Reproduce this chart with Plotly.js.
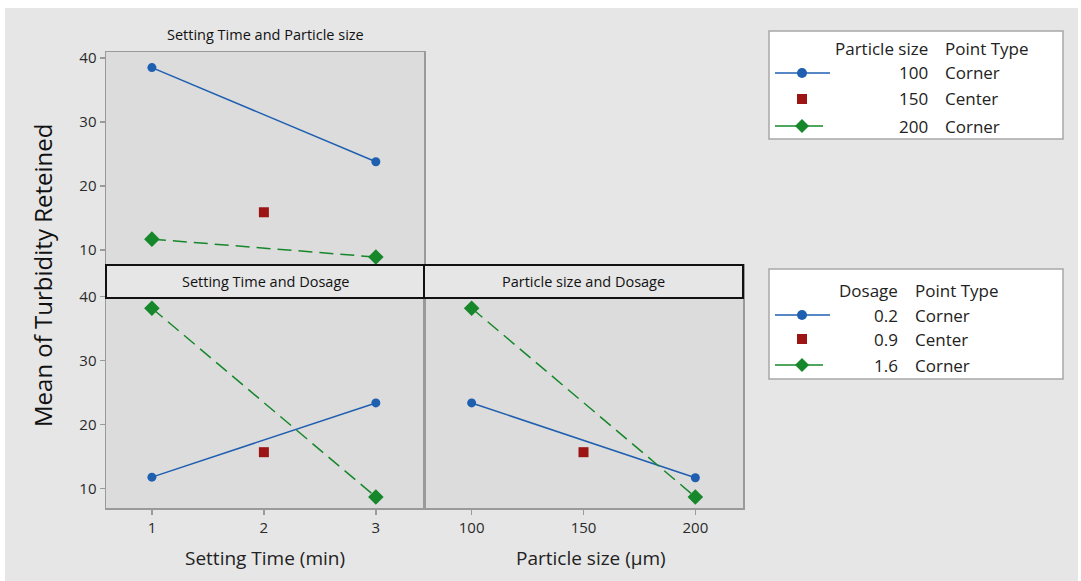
<!DOCTYPE html>
<html>
<head>
<meta charset="utf-8">
<script src="https://cdn.plot.ly/plotly-3.0.1.min.js"></script>
<style>html,body{margin:0;padding:0;background:#fff;}#chart{width:1081px;height:581px;}</style>
</head>
<body>
<div id="chart"></div>
<script>
// ---- data ----
const settingTime = [1, 3];
const settingTimeCenter = [2];
const particleSize = [100, 200];
const particleSizeCenter = [150];

// Panel 1: Setting Time x Particle size
const st_ps100 = [38.5, 23.8];
const st_ps200 = [11.7, 8.9];
const st_psCenter = [15.9];

// Panel 2: Setting Time x Dosage
const st_d02 = [11.8, 23.4];
const st_d16 = [38.2, 8.7];
const st_dCenter = [15.7];

// Panel 3: Particle size x Dosage
const ps_d02 = [23.4, 11.7];
const ps_d16 = [38.2, 8.7];
const ps_dCenter = [15.7];

const xTicksST = [1, 2, 3];
const xTicksPS = [100, 150, 200];
const yTicks = [10, 20, 30, 40];

const legend1Header = ["Particle size", "Point Type"];
const legend1Rows = [["100", "Corner"], ["150", "Center"], ["200", "Corner"]];
const legend2Header = ["Dosage", "Point Type"];
const legend2Rows = [["0.2", "Corner"], ["0.9", "Center"], ["1.6", "Corner"]];

// ---- style ----
const W = 1081, H = 581;
const px = x => x / W;
const py = y => 1 - y / H;
const FONT = "Open Sans, Noto Sans, sans-serif";
const BLUE = "#1f5fb0", GREEN = "#16872a", RED = "#9c1414";
const AXC = "#9a9a9a";
const GREEN_DASH = "14px,7px";

function lineTrace(x, y, xa, ya, color, dash, symbol, size) {
  return {x: x, y: y, xaxis: xa, yaxis: ya, type: "scatter", mode: "lines+markers",
    line: {color: color, width: 1.5, dash: dash},
    marker: {color: color, symbol: symbol, size: size},
    showlegend: false, hoverinfo: "x+y"};
}
function centerTrace(x, y, xa, ya) {
  return {x: x, y: y, xaxis: xa, yaxis: ya, type: "scatter", mode: "markers",
    marker: {color: RED, symbol: "square", size: 10},
    showlegend: false, hoverinfo: "x+y"};
}

const traces = [
  lineTrace(settingTime, st_ps100, "x", "y", BLUE, "solid", "circle", 9),
  lineTrace(settingTime, st_ps200, "x", "y", GREEN, GREEN_DASH, "diamond", 12),
  centerTrace(settingTimeCenter, st_psCenter, "x", "y"),
  lineTrace(settingTime, st_d02, "x2", "y2", BLUE, "solid", "circle", 9),
  lineTrace(settingTime, st_d16, "x2", "y2", GREEN, GREEN_DASH, "diamond", 12),
  centerTrace(settingTimeCenter, st_dCenter, "x2", "y2"),
  lineTrace(particleSize, ps_d02, "x3", "y3", BLUE, "solid", "circle", 9),
  lineTrace(particleSize, ps_d16, "x3", "y3", GREEN, GREEN_DASH, "diamond", 12),
  centerTrace(particleSizeCenter, ps_dCenter, "x3", "y3")
];

const tickFont = {family: FONT, size: 15, color: "#2a2a2a"};
function yAx(domain, range, labels) {
  return {domain: domain, range: range, tickvals: yTicks, showticklabels: labels,
    ticks: labels ? "outside" : "", ticklen: 5, tickcolor: AXC, tickwidth: 1.5,
    showgrid: false, zeroline: false, showline: true, linecolor: AXC, linewidth: 1.5,
    mirror: true, tickfont: tickFont};
}
function xAx(domain, range, tickvals, labels, anchor) {
  return {domain: domain, range: range, tickvals: tickvals, showticklabels: labels,
    ticks: labels ? "outside" : "", ticklen: 5, tickcolor: AXC, tickwidth: 1.5,
    showgrid: false, zeroline: false, showline: true, linecolor: AXC, linewidth: 1.5,
    mirror: true, tickfont: tickFont, anchor: anchor};
}

const xL = [px(106), px(424)], xR = [px(424), px(743)];
const yTop = [py(265), py(52)], yBot = [py(508), py(265)];

const shapes = [
  {type: "rect", xref: "paper", yref: "paper", x0: px(5), x1: px(1078), y0: py(581), y1: py(8),
   fillcolor: "#e6e6e6", line: {width: 0}, layer: "below"},
  {type: "rect", xref: "paper", yref: "paper", x0: xL[0], x1: xL[1], y0: yTop[0], y1: yTop[1],
   fillcolor: "#dcdcdc", line: {width: 0}, layer: "below"},
  {type: "rect", xref: "paper", yref: "paper", x0: xL[0], x1: xL[1], y0: yBot[0], y1: yBot[1],
   fillcolor: "#dcdcdc", line: {width: 0}, layer: "below"},
  {type: "rect", xref: "paper", yref: "paper", x0: xR[0], x1: xR[1], y0: yBot[0], y1: yBot[1],
   fillcolor: "#dcdcdc", line: {width: 0}, layer: "below"},
  {type: "rect", xref: "paper", yref: "paper", x0: px(106), x1: px(424), y0: py(298), y1: py(265),
   fillcolor: "#e6e6e6", line: {color: "#111", width: 2}},
  {type: "rect", xref: "paper", yref: "paper", x0: px(424), x1: px(743), y0: py(298), y1: py(265),
   fillcolor: "#e6e6e6", line: {color: "#111", width: 2}},
  {type: "rect", xref: "paper", yref: "paper", x0: px(769), x1: px(1063), y0: py(139), y1: py(31),
   fillcolor: "#ffffff", line: {color: "#a8a8a8", width: 1.5}},
  {type: "rect", xref: "paper", yref: "paper", x0: px(769), x1: px(1063), y0: py(379), y1: py(269),
   fillcolor: "#ffffff", line: {color: "#a8a8a8", width: 1.5}}
];

const annotations = [
  {text: "Setting Time and Particle size", x: px(265), y: py(35), font: {family: FONT, size: 14.5, color: "#111"}},
  {text: "Setting Time and Dosage", x: px(265), y: py(281), font: {family: FONT, size: 14.5, color: "#111"}},
  {text: "Particle size and Dosage", x: px(583), y: py(282), font: {family: FONT, size: 14.5, color: "#111"}},
  {text: "Mean of Turbidity Reteined", x: px(42), y: py(276), textangle: -90, font: {family: FONT, size: 24, color: "#111"}},
  {text: "Setting Time (min)", x: px(265), y: py(558), font: {family: FONT, size: 19, color: "#222"}},
  {text: "Particle size (\u03bcm)", x: px(591), y: py(558), font: {family: FONT, size: 19, color: "#222"}}
].map(a => Object.assign({xref: "paper", yref: "paper", showarrow: false, xanchor: "center", yanchor: "middle"}, a));

function addLegend(header, rows, splitX, headerY, rowYs) {
  const f = {family: FONT, size: 17, color: "#222"};
  const base = {xref: "paper", yref: "paper", showarrow: false, yanchor: "middle"};
  annotations.push(Object.assign({}, base, {text: header[0], x: px(splitX), y: py(headerY), xanchor: "right", font: f}));
  annotations.push(Object.assign({}, base, {text: header[1], x: px(splitX + 13), y: py(headerY), xanchor: "left", font: f}));
  rows.forEach((r, i) => {
    annotations.push(Object.assign({}, base, {text: r[0], x: px(splitX), y: py(rowYs[i]), xanchor: "right", font: f}));
    annotations.push(Object.assign({}, base, {text: r[1], x: px(splitX + 13), y: py(rowYs[i]), xanchor: "left", font: f}));
  });
  const cx = 802;
  shapes.push({type: "line", xref: "paper", yref: "paper", x0: px(775), x1: px(830), y0: py(rowYs[0]), y1: py(rowYs[0]), line: {color: BLUE, width: 1.6}});
  shapes.push({type: "circle", xref: "paper", yref: "paper", x0: px(cx - 5), x1: px(cx + 5), y0: py(rowYs[0] + 5), y1: py(rowYs[0] - 5), fillcolor: BLUE, line: {width: 0}});
  shapes.push({type: "rect", xref: "paper", yref: "paper", x0: px(cx - 5), x1: px(cx + 5), y0: py(rowYs[1] + 5), y1: py(rowYs[1] - 5), fillcolor: RED, line: {width: 0}});
  const gy = rowYs[2];
  shapes.push({type: "line", xref: "paper", yref: "paper", x0: px(775), x1: px(823), y0: py(gy), y1: py(gy), line: {color: GREEN, width: 1.6}});
  shapes.push({type: "path", xref: "paper", yref: "paper",
    path: `M ${px(cx - 7)} ${py(gy)} L ${px(cx)} ${py(gy - 7)} L ${px(cx + 7)} ${py(gy)} L ${px(cx)} ${py(gy + 7)} Z`,
    fillcolor: GREEN, line: {width: 0}});
}
addLegend(legend1Header, legend1Rows, 930, 49, [73, 99, 126]);
addLegend(legend2Header, legend2Rows, 900, 290, [315, 339, 365]);

const layout = {
  width: W, height: H, autosize: false,
  margin: {l: 0, r: 0, t: 0, b: 0},
  paper_bgcolor: "#ffffff", plot_bgcolor: "rgba(0,0,0,0)",
  showlegend: false,
  font: {family: FONT},
  xaxis: xAx(xL, [0.59, 3.43], xTicksST, false, "y"),
  yaxis: Object.assign(yAx(yTop, [7.66, 40.94], true), {anchor: "x"}),
  xaxis2: xAx(xL, [0.59, 3.43], xTicksST, true, "y2"),
  yaxis2: Object.assign(yAx(yBot, [6.98, 44.95], true), {anchor: "x2"}),
  xaxis3: xAx(xR, [78.7, 221.3], xTicksPS, true, "y3"),
  yaxis3: Object.assign(yAx(yBot, [6.98, 44.95], false), {anchor: "x3"}),
  shapes: shapes,
  annotations: annotations
};

Plotly.newPlot("chart", traces, layout, {displayModeBar: false, staticPlot: true});
</script>
</body>
</html>
